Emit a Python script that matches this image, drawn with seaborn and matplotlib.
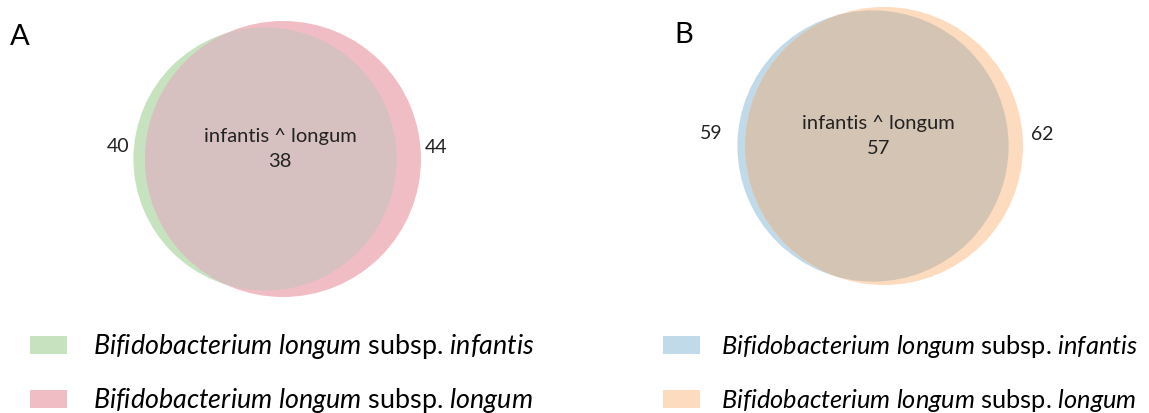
import numpy as np
import matplotlib.pyplot as plt
import seaborn as sns
from matplotlib.patches import Circle, Rectangle

# set sizes
panel_labels = ['A', 'B']
n_infantis = [40, 59]
n_longum = [44, 62]
n_shared = [38, 57]

legend_labels = ['infantis', 'longum']
col_infantis = ['#c6e2bf', '#c0dae9']
col_longum = ['#f1bdc4', '#fddbbf']
col_shared = ['#d6c1c0', '#d4c4b3']

sns.set_theme(style='white')
plt.rcParams['font.family'] = ['Lato', 'DejaVu Sans']
plt.rcParams['mathtext.fontset'] = 'custom'
plt.rcParams['mathtext.it'] = 'Lato:italic'
plt.rcParams['mathtext.rm'] = 'Lato'

fig = plt.figure(figsize=(11.49, 4.14), dpi=100)
ax = fig.add_axes([0, 0, 1, 1])
ax.set_xlim(0, 1149)
ax.set_ylim(414, 0)
ax.set_axis_off()

# layout of each panel (pixels)
cx_infantis = [265, 873]
cx_longum = [283, 884]
cy_panel = [160, 147]
r_big = [138, 139]
gap_left = [4, 15]
gap_right = [4, 8]
label_shift = [6, 0]
letter_pos = [(10, 37), (674, 35)]
legend_x = [30, 663]
legend_text_x = [93, 721]
legend_fs = [19.4, 18.3]

for i in range(2):
    # radius ~ sqrt(set size), scaled so the larger circle fits the panel
    s = r_big[i] / np.sqrt(n_longum[i])
    r1 = np.sqrt(n_infantis[i]) * s
    r2 = np.sqrt(n_longum[i]) * s
    cx1, cx2, cy = cx_infantis[i], cx_longum[i], cy_panel[i]
    c1 = Circle((cx1, cy), r1, facecolor=col_infantis[i], edgecolor='none')
    c2 = Circle((cx2, cy), r2, facecolor=col_longum[i], edgecolor='none')
    ax.add_patch(c1)
    ax.add_patch(c2)
    c3 = Circle((cx2, cy), r2, facecolor=col_shared[i], edgecolor='none')
    ax.add_patch(c3)
    c3.set_clip_path(c1)

    ax.text(cx1 - r1 - gap_left[i], cy - 13, str(n_infantis[i]), ha='right', va='center',
            fontsize=14, color='#222222')
    ax.text(cx2 + r2 + gap_right[i], cy - 12, str(n_longum[i]), ha='left', va='center',
            fontsize=14, color='#222222')
    mx = (cx1 + cx2) / 2 + label_shift[i]
    ax.text(mx, cy - 23, 'infantis ^ longum', ha='center', va='center',
            fontsize=14.5, color='#222222')
    ax.text(mx, cy + 2, str(n_shared[i]), ha='center', va='center',
            fontsize=14.5, color='#222222')

    lx, ly = letter_pos[i]
    ax.text(lx, ly, panel_labels[i], ha='left', va='center', fontsize=21, color='black')

    # legend
    for j, (name, col) in enumerate(zip(legend_labels, [col_infantis[i], col_longum[i]])):
        y = 346 + j * 54
        ax.add_patch(Rectangle((legend_x[i], y - 9), 37, 18, facecolor=col, edgecolor='none'))
        ax.text(legend_text_x[i], y + 1,
                r'$\it{Bifidobacterium}$ $\it{longum}$ subsp. $\it{' + name + '}$',
                ha='left', va='center', fontsize=legend_fs[i], color='black')

fig.savefig('out.png', dpi=100)
